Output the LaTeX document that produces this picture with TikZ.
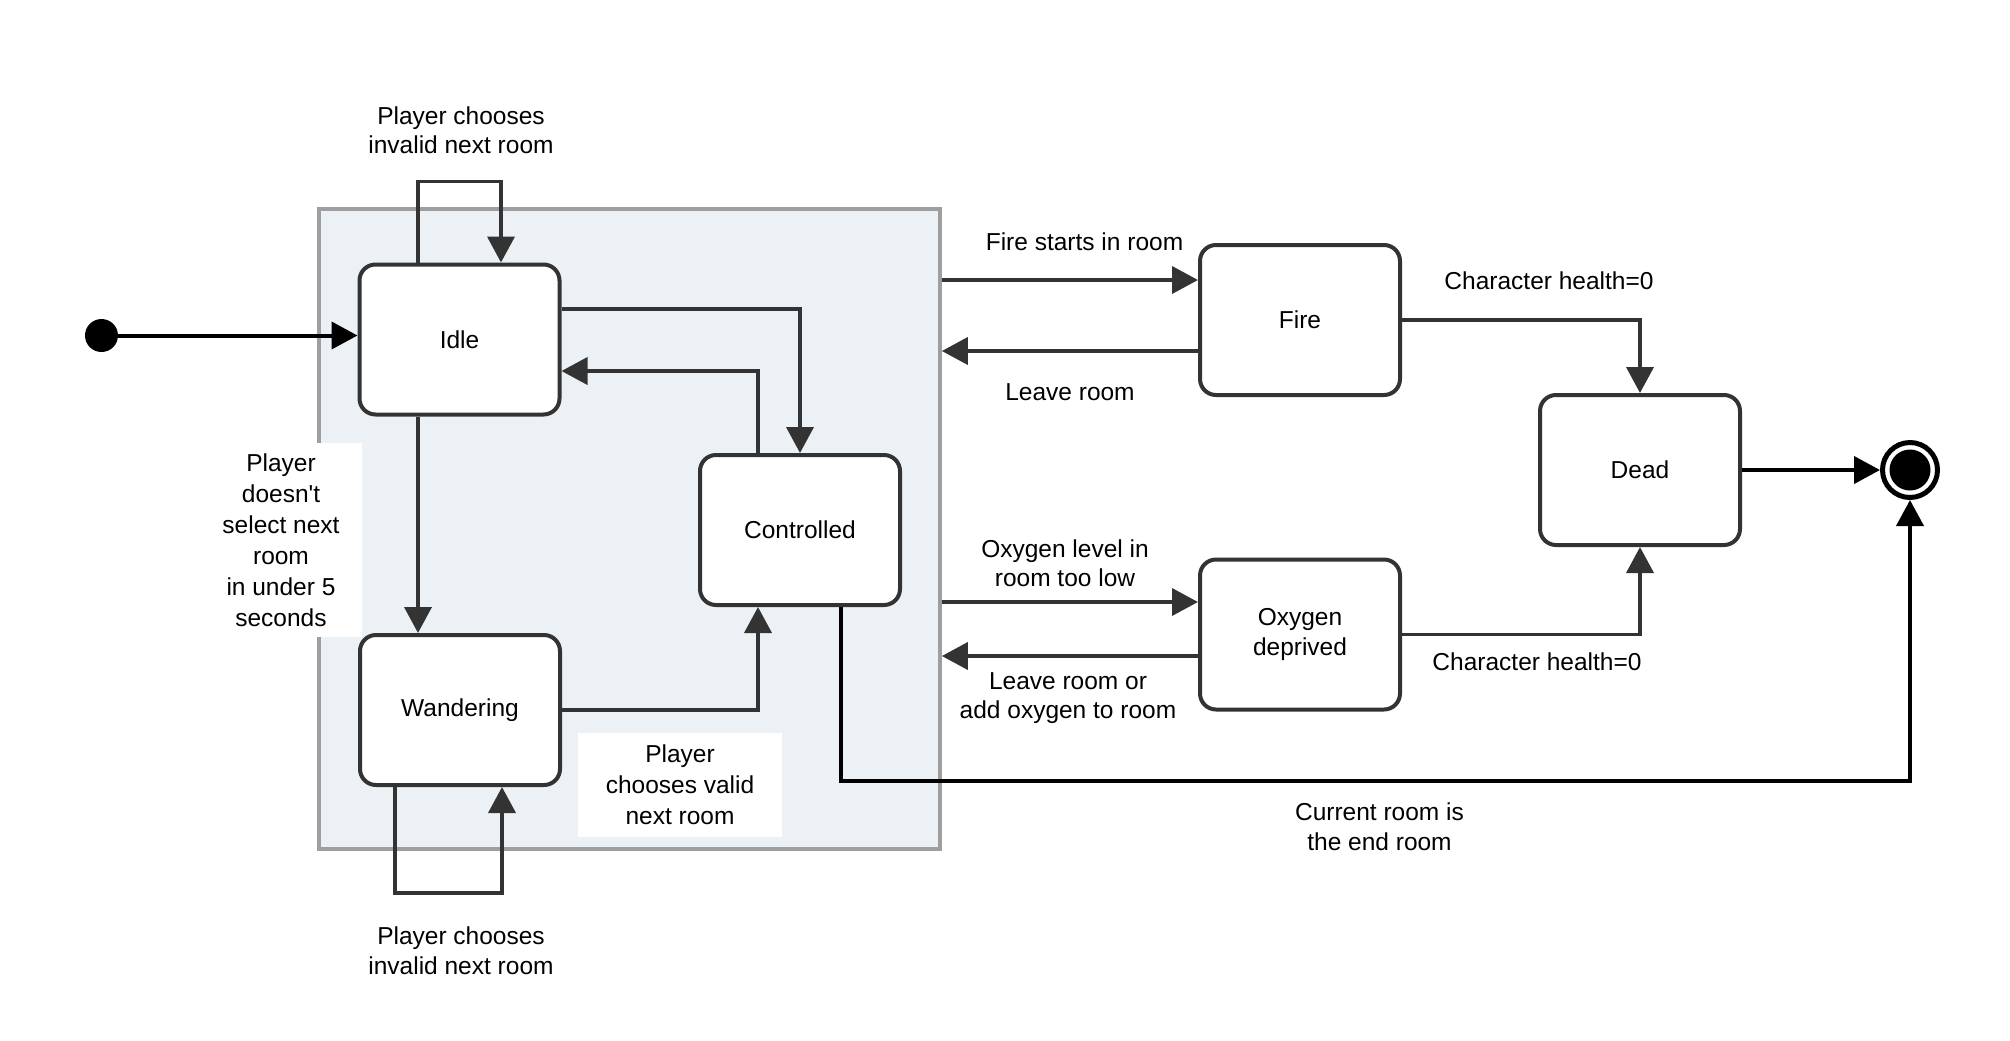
\documentclass[tikz,border=0pt]{standalone}
\usepackage{fontspec}
\setmainfont{Liberation Sans}[Ligatures=TeXOff]
\usetikzlibrary{arrows.meta,calc}
\definecolor{edge}{HTML}{333333}
\definecolor{groupfill}{HTML}{ECF1F5}
\definecolor{groupline}{HTML}{9E9E9E}
\begin{document}
\begin{tikzpicture}[x=0.5pt,y=-0.5pt,
  font=\fontsize{12.25pt}{14.75pt}\selectfont,
  state/.style={draw=edge, line width=2pt, rounded corners=8pt, fill=white,
    minimum width=100pt, minimum height=75pt, inner sep=0pt, align=center},
  group/.style={draw=groupline, line width=1.85pt, fill=groupfill,
    minimum width=310.5pt, minimum height=320pt, inner sep=0pt},
  flow/.style={draw=edge, line width=1.9pt, -{Triangle[length=13pt,width=13.5pt]}},
  blackflow/.style={draw=black, line width=2pt, -{Triangle[length=13pt,width=13.5pt]}},
  lbl/.style={align=center, inner sep=0pt},
  boxlbl/.style={fill=white, align=center, inner sep=0pt,
    font=\fontsize{12.25pt}{15.5pt}\selectfont},
  initdot/.style={circle, fill=black, minimum size=16.5pt, inner sep=0pt},
  endring/.style={circle, draw=black, line width=2.5pt, fill=white, minimum size=27.5pt, inner sep=0pt}
]
\useasboundingbox (0,0) rectangle (2010,1040);

% composite state holding the player-driven states
\node[group] (group) at (629.5,529) {};

% states
\node[state] (idle) at (459.5,339.5) {Idle};
\node[state] (wand) at (460,710) {Wandering};
\node[state] (ctrl) at (800,530) {Controlled};
\node[state] (fire) at (1300,320) {Fire};
\node[state] (oxy)  at (1300,634.5) {Oxygen\\deprived};
\node[state] (dead) at (1640,470) {Dead};

% pseudo-states
\node[initdot] (init) at (101.5,335.5) {};
\node[endring] (final) at (1910,470) {};
\fill[black] (final.center) circle (10.25pt);

% entry
\draw[blackflow] (init) -- (init -| idle.west);

% transitions inside the group
\draw[flow] ($(idle.north)+(-41.5,0)$) -- ++(0,-81) -| ($(idle.north)+(41.5,0)$);
\draw[flow] ($(idle.east)+(0,-30.5)$) -| (ctrl.north);
\draw[flow] ($(ctrl.north)+(-42,0)$) |- ($(idle.east)+(0,31.5)$);
\draw[flow] ($(idle.south)+(-41.5,0)$) -- ($(wand.north)+(-42,0)$);
\draw[flow] (wand.east) -| ($(ctrl.south)+(-42,0)$);
\draw[flow] ($(wand.south)+(-65,0)$) -- ++(0,106) -| ($(wand.south)+(42,0)$);

% hazards
\coordinate (firein)  at ($(fire.west)+(0,-40)$);
\coordinate (fireout) at ($(fire.west)+(0,31)$);
\coordinate (oxyin)   at ($(oxy.west)+(0,-32.5)$);
\coordinate (oxyout)  at ($(oxy.west)+(0,21.5)$);
\draw[flow] (group.east |- firein) -- (firein);
\draw[flow] (fireout) -- (group.east |- fireout);
\draw[flow] (group.east |- oxyin) -- (oxyin);
\draw[flow] (oxyout) -- (group.east |- oxyout);
\draw[flow] (fire.east) -| (dead.north);
\draw[flow] (oxy.east) -| (dead.south);

% exits
\draw[blackflow] (dead.east) -- (final.west);
\draw[blackflow] ($(ctrl.south)+(41,0)$) -- ++(0,174) -| (final.south);

% labels
\node[lbl] (l1) at (461,130) {Player chooses\\invalid next room};
\node[lbl] (l2) at (461,950.5) {Player chooses\\invalid next room};
\node[boxlbl, minimum width=81pt, minimum height=97pt] (l3) at (281,540)
  {Player\\doesn't\\select next\\room\\in under 5\\seconds};
\node[boxlbl, minimum width=102pt, minimum height=52pt] (l4) at (680,785)
  {Player\\chooses valid\\next room};
\node[lbl] (l5) at (1084.5,242) {Fire starts in room};
\node[lbl] (l6) at (1070,392) {Leave room};
\node[lbl] (l7) at (1549,281) {Character health=0};
\node[lbl] (l8) at (1537,662) {Character health=0};
\node[lbl] (l9) at (1065,563) {Oxygen level in\\room too low};
\node[lbl] (l10) at (1068,698) {Leave room or\\add oxygen to room};
\node[lbl] (l11) at (1379.5,826.5) {Current room is\\the end room};
\end{tikzpicture}
\end{document}
